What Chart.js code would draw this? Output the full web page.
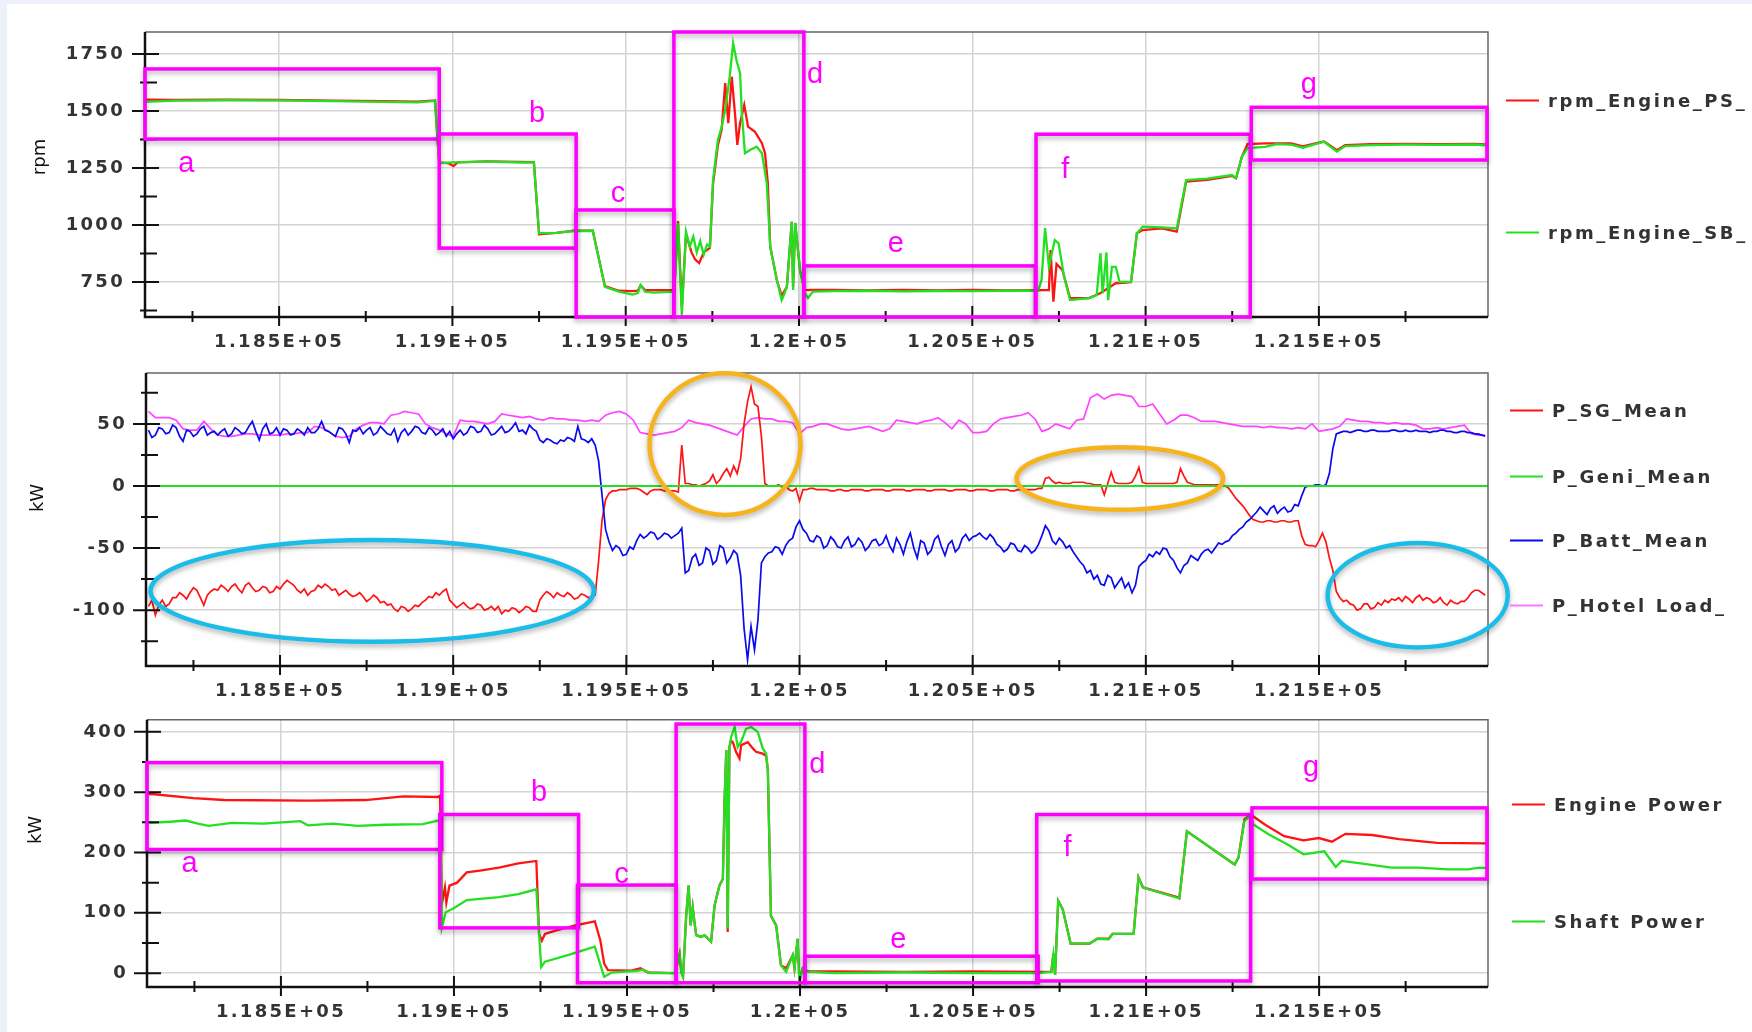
<!DOCTYPE html>
<html>
<head>
<meta charset="utf-8">
<script src="https://cdn.jsdelivr.net/npm/chart.js@4.4.1/dist/chart.umd.min.js"></script>
<style>
  body { margin: 0; width: 1752px; height: 1032px; background: #eef1f9; overflow: hidden; font-family: 'DejaVu Sans', sans-serif; }
  #sheet { position: absolute; left: 7px; top: 4px; right: 0; bottom: 0; background: #fff; }
  canvas { position: absolute; left: 0; }
  .ytitle { position: absolute; font-size: 18px; color: #111; transform: translate(-50%, -50%) rotate(-90deg); white-space: nowrap; }
  .leg { position: absolute; display: flex; align-items: center; font-weight: bold; font-size: 18px; letter-spacing: 2.6px; color: #333; white-space: nowrap; transform: translateY(-50%); }
  .leg i { display: inline-block; width: 33px; height: 2px; margin-right: 9px; }
</style>
</head>
<body>
<div id="sheet"></div>
<canvas id="c1" width="1520" height="370" style="top:0px"></canvas>
<canvas id="c2" width="1520" height="380" style="top:340px"></canvas>
<canvas id="c3" width="1520" height="342" style="top:690px"></canvas>
<div class="ytitle" style="left:38px;top:157px">rpm</div>
<div class="ytitle" style="left:36px;top:498px">kW</div>
<div class="ytitle" style="left:34px;top:830px">kW</div>
<div id="legends"></div>
<script>
// ---- axes -------------------------------------------------------------------
const X_MIN = 118113, X_MAX = 121988;
const xTicks = [118250, 118500, 118750, 119000, 119250, 119500, 119750, 120000,
                120250, 120500, 120750, 121000, 121250, 121500, 121750];
const rpmTicks = [625, 750, 875, 1000, 1125, 1250, 1375, 1500, 1625, 1750];
const midTicks = [-125, -100, -75, -50, -25, 0, 25, 50, 75];
const powTicks = [0, 50, 100, 150, 200, 250, 300, 350, 400];

// ---- top chart: engine speed [x, rpm] ---------------------------------------
const rpmPS = [
  [118113,1550],[118200,1548],[118350,1549],[118500,1548],[118650,1545],[118800,1543],[118900,1541],[118950,1546],
  [118956,1400],[118962,1275],[118990,1270],[119003,1258],[119015,1275],[119100,1279],[119235,1276],[119250,960],
  [119300,966],[119350,975],[119405,975],[119440,732],[119480,712],[119520,710],[119535,712],[119543,735],[119556,715],
  [119636,715],[119640,712],[119651,1017],[119662,640],[119674,960],[119690,880],[119700,850],[119712,833],[119725,880],
  [119743,900],[119752,1180],[119766,1350],[119777,1420],[119787,1622],[119796,1447],[119806,1650],[119816,1475],
  [119822,1351],[119830,1447],[119842,1526],[119853,1431],[119873,1409],[119893,1359],[119902,1315],[119910,1184],
  [119917,905],[119936,759],[119950,690],[119965,729],[119979,1014],[119983,730],[119989,1009],[120003,800],[120017,715],
  [120040,716],[120100,716],[120200,714],[120300,716],[120400,714],[120500,716],[120600,714],[120690,715],[120721,715],
  [120726,890],[120734,664],[120743,830],[120760,803],[120782,680],[120837,680],[120870,702],[120914,745],[120958,750],
  [120975,964],[120992,978],[121047,985],[121090,971],[121117,1190],[121178,1198],[121250,1215],[121261,1205],
  [121278,1300],[121294,1355],[121345,1358],[121420,1358],[121454,1345],[121490,1358],[121515,1366],[121552,1328],
  [121576,1350],[121650,1355],[121750,1356],[121850,1354],[121950,1356],[121988,1352]
];
const rpmSB = [
  [118113,1540],[118200,1545],[118350,1547],[118500,1546],[118650,1543],[118800,1540],[118900,1538],[118950,1544],
  [118956,1400],[118962,1271],[119000,1275],[119100,1278],[119200,1274],[119235,1274],[119250,965],[119300,966],
  [119350,974],[119405,975],[119440,729],[119480,708],[119520,695],[119535,702],[119543,737],[119556,708],[119580,704],
  [119636,708],[119640,700],[119651,1009],[119662,605],[119674,971],[119685,905],[119695,950],[119705,880],[119715,930],
  [119725,870],[119735,915],[119743,905],[119752,1197],[119766,1373],[119777,1431],[119787,1504],[119800,1650],
  [119810,1797],[119820,1720],[119830,1666],[119835,1491],[119844,1315],[119860,1330],[119878,1343],[119893,1315],
  [119907,1184],[119917,905],[119936,759],[119950,671],[119958,700],[119965,729],[119979,1014],[119983,715],[119989,1009],
  [120003,803],[120017,702],[120026,680],[120040,708],[120100,710],[120200,712],[120300,709],[120400,711],[120500,710],
  [120600,712],[120690,712],[120700,760],[120710,987],[120721,817],[120738,934],[120749,920],[120765,773],[120782,671],
  [120837,680],[120859,693],[120870,877],[120876,700],[120887,880],[120892,671],[120903,817],[120914,817],[120925,751],
  [120958,751],[120975,964],[120992,993],[121047,990],[121090,985],[121117,1197],[121178,1203],[121250,1219],
  [121261,1205],[121278,1300],[121294,1337],[121345,1343],[121377,1355],[121420,1352],[121454,1339],[121490,1355],
  [121515,1365],[121552,1322],[121576,1346],[121650,1350],[121750,1352],[121850,1351],[121950,1353],[121988,1348]
];

// ---- middle chart: electrical power ------------------------------------------
// hotel load sampled every 20 s
const tMid = [
  118120,118140,118160,118180,118200,118220,118240,118260,118280,118300,
  118320,118340,118360,118380,118400,118420,118440,118460,118480,118500,
  118520,118540,118560,118580,118600,118620,118640,118660,118680,118700,
  118720,118740,118760,118780,118800,118820,118840,118860,118880,118900,
  118920,118940,118960,118980,119000,119020,119040,119060,119080,119100,
  119120,119140,119160,119180,119200,119220,119240,119260,119280,119300,
  119320,119340,119360,119380,119400,119420,119440,119460,119480,119500,
  119520,119540,119560,119580,119600,119620,119640,119660,119680,119700,
  119720,119740,119760,119780,119800,119820,119840,119860,119880,119900,
  119920,119940,119960,119980,120000,120020,120040,120060,120080,120100,
  120120,120140,120160,120180,120200,120220,120240,120260,120280,120300,
  120320,120340,120360,120380,120400,120420,120440,120460,120480,120500,
  120520,120540,120560,120580,120600,120620,120640,120660,120680,120700,
  120720,120740,120760,120780,120800,120820,120840,120860,120880,120900,
  120920,120940,120960,120980,121000,121020,121040,121060,121080,121100,
  121120,121140,121160,121180,121200,121220,121240,121260,121280,121300,
  121320,121340,121360,121380,121400,121420,121440,121460,121480,121500,
  121520,121540,121560,121580,121600,121620,121640,121660,121680,121700,
  121720,121740,121760,121780,121800,121820,121840,121860,121880,121900,
  121920,121940,121960,121980
];
const pHotel = [
  60,55,55,55,53,46,45,45,52,46,
  41,40,40,41,42,42,41,41,41,41,
  42,42,43,43,48,47,44,40,39,40,
  46,49,51,51,50,57,58,60,59,58,
  50,47,45,42,40,53,52,52,51,50,
  52,58,57,56,55,56,54,53,55,54,
  54,53,53,52,53,52,57,59,60,58,
  53,43,42,41,42,43,44,47,53,51,
  50,49,47,45,43,41,48,54,55,54,
  54,52,52,51,42,47,48,50,50,48,
  46,45,46,47,48,46,44,46,53,52,
  51,50,52,53,55,51,46,53,50,43,
  43,44,50,54,55,56,57,59,54,44,
  46,50,48,46,53,54,71,74,70,73,
  74,73,72,64,64,66,58,50,53,57,
  57,55,52,52,52,51,50,49,48,48,
  48,47,48,47,47,46,47,46,50,44,
  45,46,48,54,53,52,52,51,51,50,
  51,50,50,49,46,46,47,46,47,48,
  49,42,41,41
];
// generator and battery sampled every 10 s
const tFine = [
  118120,118130,118140,118150,118160,118170,118180,118190,118200,118210,118220,118230,118240,118250,118260,118270,118280,118290,118300,118310,
  118320,118330,118340,118350,118360,118370,118380,118390,118400,118410,118420,118430,118440,118450,118460,118470,118480,118490,118500,118510,
  118520,118530,118540,118550,118560,118570,118580,118590,118600,118610,118620,118630,118640,118650,118660,118670,118680,118690,118700,118710,
  118720,118730,118740,118750,118760,118770,118780,118790,118800,118810,118820,118830,118840,118850,118860,118870,118880,118890,118900,118910,
  118920,118930,118940,118950,118960,118970,118980,118990,119000,119010,119020,119030,119040,119050,119060,119070,119080,119090,119100,119110,
  119120,119130,119140,119150,119160,119170,119180,119190,119200,119210,119220,119230,119240,119250,119260,119270,119280,119290,119300,119310,
  119320,119330,119340,119350,119360,119370,119380,119390,119400,119410,119420,119430,119440,119450,119460,119470,119480,119490,119500,119510,
  119520,119530,119540,119550,119560,119570,119580,119590,119600,119610,119620,119630,119640,119650,119660,119670,119680,119690,119700,119710,
  119720,119730,119740,119750,119760,119770,119780,119790,119800,119810,119820,119830,119840,119850,119860,119870,119880,119890,119900,119910,
  119920,119930,119940,119950,119960,119970,119980,119990,120000,120010,120020,120030,120040,120050,120060,120070,120080,120090,120100,120110,
  120120,120130,120140,120150,120160,120170,120180,120190,120200,120210,120220,120230,120240,120250,120260,120270,120280,120290,120300,120310,
  120320,120330,120340,120350,120360,120370,120380,120390,120400,120410,120420,120430,120440,120450,120460,120470,120480,120490,120500,120510,
  120520,120530,120540,120550,120560,120570,120580,120590,120600,120610,120620,120630,120640,120650,120660,120670,120680,120690,120700,120710,
  120720,120730,120740,120750,120760,120770,120780,120790,120800,120810,120820,120830,120840,120850,120860,120870,120880,120890,120900,120910,
  120920,120930,120940,120950,120960,120970,120980,120990,121000,121010,121020,121030,121040,121050,121060,121070,121080,121090,121100,121110,
  121120,121130,121140,121150,121160,121170,121180,121190,121200,121210,121220,121230,121240,121250,121260,121270,121280,121290,121300,121310,
  121320,121330,121340,121350,121360,121370,121380,121390,121400,121410,121420,121430,121440,121450,121460,121470,121480,121490,121500,121510,
  121520,121530,121540,121550,121560,121570,121580,121590,121600,121610,121620,121630,121640,121650,121660,121670,121680,121690,121700,121710,
  121720,121730,121740,121750,121760,121770,121780,121790,121800,121810,121820,121830,121840,121850,121860,121870,121880,121890,121900,121910,
  121920,121930,121940,121950,121960,121970,121980
];
const pSG = [
  -97,-92,-104,-96,-92,-97,-95,-90,-90,-86,-88,-91,-86,-82,-84,-90,-96,-88,-85,-83,
  -84,-80,-82,-85,-81,-79,-83,-86,-80,-78,-82,-85,-84,-81,-82,-86,-85,-81,-83,-79,
  -76,-78,-80,-84,-86,-83,-88,-85,-84,-80,-82,-79,-81,-84,-83,-88,-86,-84,-87,-89,
  -88,-86,-89,-93,-91,-88,-90,-94,-93,-96,-95,-99,-101,-97,-98,-101,-99,-96,-97,-94,
  -92,-89,-90,-86,-88,-85,-83,-92,-95,-98,-96,-94,-97,-99,-98,-95,-96,-100,-99,-97,
  -100,-97,-103,-100,-101,-98,-99,-102,-100,-97,-98,-101,-101,-92,-88,-85,-87,-90,-86,-88,
  -89,-86,-88,-91,-90,-87,-88,-90,-89,-88,-60,-27,-11,-6,-4,-4,-3,-3,-3,-2,
  -2,-2,-3,-5,-7,-4,-3,-3,-3,-4,-4,-4,-4,-5,33,2,2,1,1,0,
  1,2,4,9,2,5,10,14,8,16,10,22,50,68,80,66,64,40,2,0,
  0,0,1,-1,0,-3,-4,-2,-12,-3,-3,-2,-2,-3,-3,-3,-3,-4,-4,-3,
  -3,-4,-4,-3,-3,-3,-3,-4,-4,-3,-3,-3,-3,-4,-4,-3,-3,-3,-3,-4,
  -4,-3,-3,-3,-3,-4,-4,-3,-3,-3,-3,-4,-4,-3,-3,-3,-3,-4,-4,-3,
  -3,-3,-3,-4,-4,-3,-3,-3,-3,-4,-4,-3,-3,-3,-3,-3,-3,-2,-2,6,
  7,4,2,3,2,2,2,3,3,3,3,2,2,1,1,1,-7,2,11,3,
  2,2,2,2,3,8,15,3,2,2,2,2,2,2,2,2,2,3,14,8,
  3,2,1,1,1,1,1,1,1,1,1,0,-2,-6,-10,-13,-16,-20,-24,-27,
  -28,-29,-29,-28,-28,-29,-29,-28,-28,-29,-29,-28,-28,-40,-47,-48,-48,-49,-44,-38,
  -45,-58,-68,-85,-90,-93,-92,-95,-96,-100,-99,-95,-95,-99,-98,-94,-96,-92,-94,-91,
  -92,-90,-93,-89,-91,-94,-90,-88,-92,-90,-91,-94,-93,-90,-94,-96,-92,-94,-95,-93,
  -93,-90,-86,-84,-84,-86,-88
];
const pBatt = [
  45,39,41,47,46,42,43,49,47,40,36,45,44,40,42,46,48,41,43,44,
  41,44,46,40,42,47,45,42,43,48,52,44,37,46,50,42,43,47,41,46,
  45,41,42,46,44,41,47,43,43,46,52,45,44,42,40,47,46,42,35,45,
  44,47,42,45,47,41,43,48,45,42,41,46,36,43,46,41,44,48,47,43,
  42,47,45,41,43,46,40,44,38,42,45,41,43,48,47,43,44,49,46,41,
  42,45,48,43,44,47,51,44,45,42,49,46,44,37,35,38,37,35,34,37,
  36,39,38,36,48,38,37,35,38,33,20,-8,-35,-45,-52,-48,-50,-56,-55,-49,
  -51,-44,-39,-42,-40,-37,-38,-43,-41,-38,-39,-42,-40,-38,-34,-70,-68,-58,-55,-64,
  -62,-50,-52,-63,-60,-48,-50,-62,-58,-52,-55,-72,-115,-140,-113,-132,-108,-62,-57,-54,
  -53,-49,-50,-55,-48,-44,-42,-33,-28,-35,-38,-44,-45,-40,-42,-50,-48,-41,-44,-49,
  -50,-44,-41,-49,-47,-42,-45,-52,-49,-44,-43,-48,-46,-40,-48,-53,-42,-47,-55,-45,
  -38,-50,-58,-44,-46,-55,-52,-43,-40,-49,-56,-47,-44,-53,-50,-42,-39,-44,-41,-40,
  -38,-41,-43,-39,-42,-47,-49,-53,-51,-46,-47,-52,-53,-48,-50,-54,-52,-47,-40,-32,
  -36,-44,-47,-42,-45,-50,-48,-53,-57,-61,-64,-70,-68,-75,-72,-79,-80,-72,-74,-82,
  -78,-74,-82,-78,-86,-80,-65,-62,-60,-55,-57,-53,-55,-50,-51,-57,-60,-66,-70,-64,
  -62,-56,-58,-60,-55,-52,-51,-54,-50,-46,-47,-45,-44,-40,-38,-35,-33,-29,-27,-24,
  -21,-17,-20,-23,-18,-16,-22,-19,-17,-21,-20,-15,-16,-8,-1,0,0,1,1,0,
  1,10,30,42,43,44,44,43,44,45,45,44,44,45,45,44,44,44,44,45,
  45,44,44,45,44,44,45,44,44,44,43,44,44,45,45,44,44,43,43,44,
  44,43,43,42,42,41,40
];
const pGeni = [[118113,0],[121988,0]];

// ---- bottom chart: power [x, kW] ---------------------------------------------
const enginePower = [
  [118113,297],[118126,297],[118247,290],[118336,287],[118578,286],[118744,287],[118854,293],[118954,292],[118960,294],
  [118965,115],[118974,142],[118978,117],[118987,145],[119009,150],[119037,167],[119075,170],[119130,175],[119186,182],
  [119238,186],[119246,65],[119254,54],[119263,65],[119296,71],[119351,79],[119407,86],[119423,54],[119434,16],[119445,5],
  [119512,4],[119539,8],[119561,1],[119639,0],[119652,32],[119657,2],[119662,-6],[119671,95],[119678,145],[119684,79],
  [119690,109],[119695,84],[119700,63],[119714,60],[119724,63],[119743,52],[119753,112],[119767,145],[119777,156],
  [119782,288],[119787,370],[119791,68],[119796,375],[119801,385],[119806,383],[119815,367],[119825,356],[119830,378],
  [119849,383],[119863,373],[119873,367],[119892,364],[119902,360],[119907,337],[119916,95],[119931,79],[119945,13],
  [119960,8],[119979,30],[119984,8],[119993,57],[119998,-10],[120008,8],[120022,3],[120100,3],[120300,2],[120500,3],
  [120688,2],[120726,2],[120732,32],[120737,-3],[120746,120],[120759,106],[120782,49],[120837,49],[120859,57],[120892,57],
  [120903,65],[120964,65],[120978,159],[120991,142],[121090,126],[121096,124],[121118,235],[121256,180],[121267,192],
  [121284,255],[121302,263],[121344,246],[121399,227],[121455,220],[121499,224],[121537,218],[121576,231],[121653,229],
  [121731,222],[121841,216],[121979,215],[121988,215]
];
const shaftPower = [
  [118113,250],[118126,249],[118180,251],[118225,253],[118260,248],[118291,244],[118358,249],[118450,248],[118556,252],
  [118578,245],[118650,248],[118722,244],[118799,246],[118910,247],[118954,253],[118962,250],[118965,76],[118976,101],
  [118998,107],[119037,121],[119130,126],[119186,131],[119238,139],[119252,10],[119263,19],[119329,30],[119407,44],
  [119434,-6],[119456,1],[119534,4],[119545,6],[119567,0],[119639,0],[119652,30],[119657,2],[119662,-6],[119671,95],
  [119678,145],[119684,79],[119690,109],[119695,84],[119700,63],[119714,60],[119724,63],[119743,52],[119753,112],
  [119767,145],[119777,156],[119782,288],[119787,370],[119791,74],[119796,375],[119801,392],[119811,408],[119820,375],
  [119830,384],[119844,405],[119859,408],[119878,400],[119892,373],[119902,364],[119907,337],[119916,95],[119931,79],
  [119945,13],[119960,2],[119979,30],[119984,8],[119993,57],[119998,-14],[120008,8],[120022,2],[120100,0],[120300,1],
  [120500,0],[120688,0],[120726,2],[120732,30],[120737,-3],[120746,120],[120759,106],[120782,49],[120837,49],[120859,57],
  [120892,56],[120903,65],[120964,65],[120978,159],[120991,142],[121090,125],[121096,124],[121118,235],[121256,180],
  [121267,191],[121284,252],[121298,260],[121311,246],[121355,230],[121410,213],[121455,197],[121515,202],[121548,176],
  [121565,186],[121620,182],[121709,175],[121786,175],[121874,172],[121930,172],[121963,175],[121988,174]
];

// ---- annotations (data units) ----------------------------------------------
// boxes: [xFrom, xTo, yFrom, yTo]; labels: [text, x, baseline y]; ellipses: [cx, cy, rx, ry, colour]
const rpmBoxes = [
  [118113,118962,1377,1684],[118962,119357,899,1399],[119357,119639,597,1066],[119639,120014,597,1846],
  [120014,120682,597,821],[120684,121302,597,1398],[121305,121985,1285,1516]
];
const rpmLabels = [['a',118232,1234],['b',119244,1453],['c',119478,1102],['d',120046,1624],
                   ['e',120279,883],['f',120768,1205],['g',121471,1578]];
const midEllipses = [
  [118766,-84.5,640,41,'#1bbde8'],[121785,-88,260,42,'#1bbde8'],
  [119785,33.7,218,57,'#f7b31c'],[120925,6,298,25.2,'#f7b31c']
];
const powBoxes = [
  [118113,118965,205,349],[118959,119360,75,263],[119357,119642,-16,146],[119642,120014,-16,413],
  [120014,120688,-16,28],[120684,121302,-13,263],[121306,121985,156,274]
];
const powLabels = [['a',118236,168],['b',119246,285],['c',119484,150],['d',120050,331],
                   ['e',120284,41],['f',120773,194],['g',121477,326]];

// ---- legends ----------------------------------------------------------------
const RED = '#ff1414', GREEN = '#22e022', BLUE = '#0a0aee', PINK = '#ff44ff';
const legendItems = [
  ['rpm_Engine_PS_', RED, 1506, 100], ['rpm_Engine_SB_', GREEN, 1506, 232],
  ['P_SG_Mean', RED, 1510, 410], ['P_Geni_Mean', GREEN, 1510, 476],
  ['P_Batt_Mean', BLUE, 1510, 540], ['P_Hotel Load_', '#ff77ff', 1510, 605],
  ['Engine Power', RED, 1512, 804], ['Shaft Power', GREEN, 1512, 921],
];
const legBox = document.getElementById('legends');
for (const [name, col, lx, ly] of legendItems) {
  const d = document.createElement('div');
  d.className = 'leg';
  d.style.left = lx + 'px';
  d.style.top = ly + 'px';
  d.innerHTML = `<i style="background:${col}"></i>${name}`;
  legBox.appendChild(d);
}

// ---- drawing ----------------------------------------------------------------
const GRID = '#d4d4d4';
const TICK_FONT = { family: 'DejaVu Sans', size: 18, weight: 'bold' };
const fmtX = v => String(+(v / 1e5).toFixed(4)) + 'E+05';

function overlay(o) {
  return {
    id: 'overlay',
    beforeDraw(chart) { chart.ctx.letterSpacing = '2.3px'; },
    afterDatasetsDraw(chart) {
      const { ctx, chartArea: a, scales: { x, y } } = chart;
      ctx.save();
      ctx.letterSpacing = '0px';
      // frame
      ctx.strokeStyle = '#666'; ctx.lineWidth = 1.5;
      ctx.beginPath(); ctx.moveTo(a.left, a.top); ctx.lineTo(a.right, a.top); ctx.lineTo(a.right, a.bottom); ctx.stroke();
      ctx.strokeStyle = '#111'; ctx.lineWidth = 2.5;
      ctx.beginPath(); ctx.moveTo(a.left, a.top); ctx.lineTo(a.left, a.bottom); ctx.lineTo(a.right, a.bottom); ctx.stroke();
      // tick marks crossing the axes
      ctx.lineWidth = 2;
      ctx.beginPath();
      for (const v of xTicks) {
        const px = x.getPixelForValue(v), major = v % 500 === 0;
        ctx.moveTo(px, a.bottom - (major ? 11 : 6)); ctx.lineTo(px, a.bottom + (major ? 9 : 5));
      }
      for (const v of o.yTicks) {
        const py = y.getPixelForValue(v), major = v % o.yMajor === 0;
        ctx.moveTo(a.left - (major ? 13 : 5), py); ctx.lineTo(a.left + (major ? 14 : 12), py);
      }
      ctx.stroke();
      // annotations
      ctx.shadowColor = 'rgba(0,0,0,0.3)'; ctx.shadowBlur = 5; ctx.shadowOffsetY = 3;
      ctx.strokeStyle = '#ff00ff'; ctx.lineWidth = 3.5;
      for (const [x0, x1, y0, y1] of (o.boxes || [])) {
        const l = x.getPixelForValue(x0), r = x.getPixelForValue(x1);
        const t = y.getPixelForValue(y1), b = y.getPixelForValue(y0);
        ctx.strokeRect(l, t, r - l, b - t);
      }
      ctx.lineWidth = 4.5;
      for (const [cx, cy, rx, ry, col] of (o.ellipses || [])) {
        const px = x.getPixelForValue(cx), py = y.getPixelForValue(cy);
        ctx.strokeStyle = col;
        ctx.beginPath();
        ctx.ellipse(px, py, x.getPixelForValue(cx + rx) - px, py - y.getPixelForValue(cy + ry), 0, 0, Math.PI * 2);
        ctx.stroke();
      }
      ctx.shadowColor = 'rgba(0,0,0,0)';
      ctx.fillStyle = '#ff00ff';
      ctx.font = '29px "Liberation Sans", Arial, sans-serif';
      ctx.textAlign = 'center'; ctx.textBaseline = 'alphabetic';
      for (const [txt, lx, ly] of (o.labels || [])) ctx.fillText(txt, x.getPixelForValue(lx), y.getPixelForValue(ly));
      ctx.restore();
    },
  };
}

function makeChart(id, datasets, o) {
  return new Chart(document.getElementById(id), {
    type: 'line',
    data: { datasets },
    options: {
      responsive: false,
      animation: false,
      events: [],
      layout: { padding: { top: o.padTop, right: 32, left: 0, bottom: 0 } },
      plugins: { legend: { display: false }, tooltip: { enabled: false } },
      elements: { point: { radius: 0 }, line: { tension: 0 } },
      scales: {
        x: {
          type: 'linear', min: X_MIN, max: X_MAX,
          afterBuildTicks: s => { s.ticks = xTicks.map(v => ({ value: v })); },
          afterFit: s => { s.height = o.xAxisH; },
          border: { display: false },
          grid: { drawTicks: false, lineWidth: 1.5, color: c => (c.tick && c.tick.value % 500 === 0) ? GRID : 'rgba(0,0,0,0)' },
          ticks: { autoSkip: false, maxRotation: 0, padding: 15, color: '#333', font: TICK_FONT,
                   callback: v => v % 500 === 0 ? fmtX(v) : '' },
        },
        y: {
          type: 'linear', min: o.yMin, max: o.yMax,
          afterBuildTicks: s => { s.ticks = o.yTicks.map(v => ({ value: v })); },
          afterFit: s => { s.width = o.yAxisW; },
          border: { display: false },
          grid: { drawTicks: false, lineWidth: 1.5, color: c => (c.tick && c.tick.value % o.yMajor === 0) ? GRID : 'rgba(0,0,0,0)' },
          ticks: { autoSkip: false, padding: o.yPad, color: '#333', font: TICK_FONT,
                   callback: v => v % o.yMajor === 0 ? String(v) : '' },
        },
      },
    },
    plugins: [overlay(o)],
  });
}

const line = (data, color, width) => ({ data, borderColor: color, borderWidth: width, fill: false });
const onTime = (t, vals) => t.map((x, i) => [x, vals[i]]);

makeChart('c1', [line(rpmSB, GREEN, 2.3), line(rpmPS, RED, 2.3)], {
  padTop: 32, xAxisH: 53, yAxisW: 145, yPad: 20, yMin: 597, yMax: 1846, yTicks: rpmTicks, yMajor: 250,
  boxes: rpmBoxes, labels: rpmLabels,
});
makeChart('c2', [line(pGeni, GREEN, 2), line(onTime(tFine, pBatt), BLUE, 1.7),
                 line(onTime(tFine, pSG), RED, 1.7), line(onTime(tMid, pHotel), PINK, 1.7)], {
  padTop: 33, xAxisH: 54, yAxisW: 146, yPad: 19, yMin: -145, yMax: 91, yTicks: midTicks, yMajor: 50,
  ellipses: midEllipses,
});
makeChart('c3', [line(shaftPower, GREEN, 2.3), line(enginePower, RED, 2.3)], {
  padTop: 28, xAxisH: 45, yAxisW: 147, yPad: 19, yMin: -23, yMax: 420, yTicks: powTicks, yMajor: 100,
  boxes: powBoxes, labels: powLabels,
});
</script>
</body>
</html>
